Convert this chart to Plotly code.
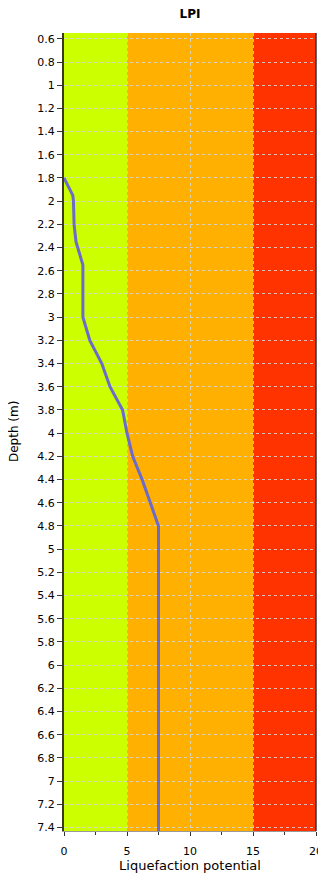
import plotly.graph_objects as go

# LPI profile
depth = [1.8, 1.9, 1.95, 2.0, 2.2, 2.35, 2.55, 3.0, 3.2, 3.4, 3.6, 3.8, 4.0, 4.2, 4.4, 4.6, 4.8, 7.45]
lpi = [0, 0.5, 0.7, 0.75, 0.8, 0.95, 1.5, 1.5, 2.05, 3.0, 3.65, 4.65, 5.0, 5.45, 6.2, 6.85, 7.5, 7.5]

# risk bands (low / high / very high)
band_edges = [0, 5, 15, 20]
band_colors = ["#CCFF00", "#FFB000", "#FF3300"]

x_ticks = [0, 5, 10, 15, 20]

fig = go.Figure()

for i, col in enumerate(band_colors):
    fig.add_shape(type="rect", xref="x", yref="paper",
                  x0=band_edges[i], x1=band_edges[i + 1], y0=0, y1=1,
                  fillcolor=col, line_width=0, layer="below")

fig.add_trace(go.Scatter(x=lpi, y=depth, mode="lines",
                         line=dict(color="#6B6BCB", width=3),
                         showlegend=False))

font = dict(family="DejaVu Sans", size=11, color="#000000")
grid = "rgba(215,215,215,0.85)"

# page body adds an 8px margin, so the figure is sized 8px smaller
W, H = 318, 874
fig.update_layout(
    width=W, height=H,
    margin=dict(l=56, r=10, t=25, b=51, autoexpand=False),
    paper_bgcolor="white", plot_bgcolor="white",
    font=font,
    title=dict(text="<b>LPI</b>", x=182 / W, xanchor="center", y=1 - 2 / H, yanchor="top",
               font=dict(family="DejaVu Sans", size=12, color="#000")),
    xaxis=dict(range=[0, 20], tickvals=x_ticks, ticks="outside", ticklen=4,
               tickcolor="#333", showline=True, linecolor="#999", linewidth=1,
               showgrid=True, gridcolor=grid, griddash="dot", gridwidth=1,
               zeroline=False, automargin=False, ticklabelstandoff=6,
               minor=dict(dtick=2.5, ticks="outside", ticklen=3, tickcolor="#333"),
               title=dict(text="Liquefaction potential", standoff=2)),
    yaxis=dict(range=[7.43, 0.55], tick0=0.6, dtick=0.2, ticks="outside", ticklen=5,
               tickcolor="#333", showline=True, linecolor="#3a3a1a", linewidth=2,
               showgrid=True, gridcolor=grid, griddash="dot", gridwidth=1,
               zeroline=False, automargin=False),
)

# y axis title placed at the far left like the original
fig.add_annotation(text="Depth (m)", textangle=-90, xref="paper", yref="paper",
                   x=(6 - 56) / 252, y=0.5, xanchor="center", yanchor="middle",
                   showarrow=False, font=dict(family="DejaVu Sans", size=12, color="#000"))

# right frame edge
fig.add_shape(type="line", xref="paper", yref="paper", x0=1, x1=1, y0=0, y1=1,
              line=dict(color="#333", width=1.5))

fig.write_html("out.html")
